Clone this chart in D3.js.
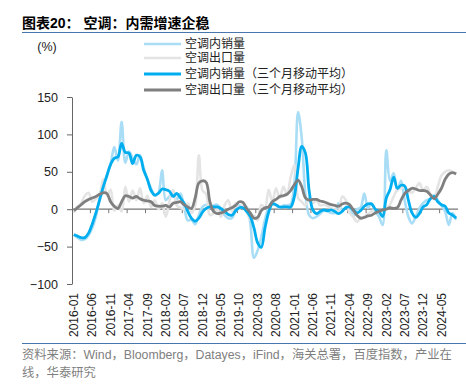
<!DOCTYPE html>
<html>
<head>
<meta charset="utf-8">
<script src="https://cdn.jsdelivr.net/npm/d3@7"></script>
<style>
  body { margin: 0; background: #fff; }
  svg { display: block; font-family: "Liberation Sans", Arial, "Noto Sans CJK SC", sans-serif; }
</style>
</head>
<body>
<svg id="chart" width="466" height="384"></svg>
<script>
// monthly categories 2016-01 .. 2024-09
var months = [];
for (var yr = 2016; yr <= 2024; yr++) {
    for (var mo = 1; mo <= 12; mo++) {
        if (yr === 2024 && mo > 9) break;
        months.push(yr + "-" + (mo < 10 ? "0" + mo : mo));
    }
}

var xTickLabels = ["2016-01", "2016-06", "2016-11", "2017-04", "2017-09", "2018-02", "2018-07",
    "2018-12", "2019-05", "2019-10", "2020-03", "2020-08", "2021-01", "2021-06", "2021-11",
    "2022-04", "2022-09", "2023-02", "2023-07", "2023-12", "2024-05"];
var yTicks = [-100, -50, 0, 50, 100, 150];

var seriesNames = ["空调内销量", "空调出口量", "空调内销量（三个月移动平均）", "空调出口量（三个月移动平均）"];

// 空调内销量 (yoy %)
var domestic = [-34, -38, -41, -40, -35, -25, -10, 15, 30, 45, 60, 83, 65, 117, 62, 77, 68, 60, 72, 55,
    40, 28, 18, 22, 52, 12, 17, 20, 13, 21, 3, -15, -14, -20, -8, 3, 6, 4, 5, 6,
    0, -8, -12, -12, -3, 5, 3, 3, -18, -65, -55, -37, -14, 3, 10, 5, 2, 5, 5, 7,
    35, 130, 95, 20, -8, -12, -10, -6, -2, -3, -5, -5, 8, -2, 3, 6, -10, 0, 2, 21,
    2, 8, -3, -10, -21, 79, 38, 48, 25, 38, 12, -10, -19, -10, 1, 8, 12, 14, 19, 12,
    5, -3, -21, -5, -14];

// 空调出口量
var exportVol = [-5, 3, 8, 18, 22, 10, 14, 20, 40, 18, 26, -2, 5, -3, 30, 10, 25, 12, 28, 8,
    18, 3, 12, 0, 8, -10, 10, 26, 5, 2, 0, 8, -5, 5, 72, 25, 20, -8, -5, 0,
    -10, 5, 12, -3, 8, 0, 5, -2, -14, -8, -15, 6, 2, 26, 10, 28, 15, 30, 20, 43,
    59, 15, 10, 5, 15, 8, 12, 5, 6, 4, 1, 0, -3, 17, 12, -5, -10, -17, -12, -10,
    -6, -3, 0, -5, -2, 1, 6, 17, 26, 28, 30, 25, 22, 28, 35, 25, 30, 20, 14, 30,
    45, 50, 52, 50, 48];

// 空调内销量（三个月移动平均）
var domesticMA = [-34, -36, -38, -38, -32, -20, -5, 12, 30, 45, 60, 68, 70, 88, 76, 75, 61, 72, 70, 52,
    40, 25, 19, 21, 27, 26, 24, 17, 21, 15, 8, -3, -12, -16, -12, -4, 1, 3, 3, 3,
    1, -3, -7, -8, -2, 2, 2, -3, -10, -25, -45, -51, -25, -4, 7, 6, 3, 3, 3, 3,
    17, 55, 84, 75, 25, -1, -6, -3, -1, -2, -1, -3, -6, -3, 2, 3, -1, -5, -2, 4,
    7, 7, 0, -3, -10, 15, 26, 43, 28, 32, 31, 12, -5, -11, -6, 3, 6, 14, 17, 10,
    6, 4, -5, -8, -12];

// 空调出口量（三个月移动平均）
var exportMA = [-2, 2, 6, 10, 13, 15, 17, 20, 22, 21, 10, 4, 1, 10, 18, 17, 15, 17, 14, 12,
    11, 10, 5, 4, 4, 5, 3, 8, 9, 10, 6, 3, 1, 15, 35, 38, 36, 10, -3, -6,
    -5, -3, 0, 2, 5, 10, 9, 1, -5, -12, -11, -2, 2, 3, 10, 13, 17, 18, 20, 25,
    33, 39, 30, 15, 12, 13, 13, 11, 10, 8, 6, 5, 4, 7, 8, 6, -1, -8, -12, -11,
    -9, -8, -5, -3, -1, 0, 2, 1, 2, 12, 21, 25, 28, 27, 25, 25, 24, 19, 14, 20,
    28, 40, 47, 49, 47];

var svg = d3.select("#chart");

var x = d3.scaleBand()
    .domain(months)
    .range([72, 458])
    .paddingInner(0)
    .paddingOuter(0);

var y = d3.scaleLinear()
    .domain([-100, 150])
    .range([284, 97]);

// title
svg.append("text")
    .attr("x", 22)
    .attr("y", 28)
    .attr("font-size", 14)
    .attr("font-weight", "bold")
    .attr("fill", "#000")
    .text("图表20： 空调：内需增速企稳");

svg.append("line")
    .attr("x1", 22).attr("x2", 466)
    .attr("y1", 32.5).attr("y2", 32.5)
    .attr("stroke", "#4a76b0")
    .attr("stroke-width", 1);

svg.append("text")
    .attr("x", 47)
    .attr("y", 51)
    .attr("text-anchor", "middle")
    .attr("font-size", 12.5)
    .attr("fill", "#222")
    .text("(%)");

// y axis
var yAxis = svg.append("g")
    .attr("transform", "translate(72,0)")
    .call(d3.axisLeft(y).tickValues(yTicks).tickSize(5).tickSizeOuter(0).tickPadding(9));
yAxis.select(".domain").attr("stroke", "#666");
yAxis.selectAll(".tick line").attr("stroke", "#666");
yAxis.selectAll(".tick text")
    .attr("font-size", 12.5)
    .attr("font-family", "Liberation Sans, Arial, sans-serif")
    .attr("fill", "#222");

// zero line with category ticks
svg.append("line")
    .attr("x1", x.range()[0]).attr("x2", x.range()[1])
    .attr("y1", y(0)).attr("y2", y(0))
    .attr("stroke", "#777")
    .attr("stroke-width", 1.3);

svg.append("g")
    .selectAll("line")
    .data(months.filter(function(d, i) { return i > 0 && i % 5 === 0; }))
    .enter().append("line")
    .attr("x1", function(d) { return x(d); })
    .attr("x2", function(d) { return x(d); })
    .attr("y1", y(0))
    .attr("y2", y(0) + 4)
    .attr("stroke", "#777");

// x labels
var xAxis = svg.append("g")
    .attr("transform", "translate(0,293)")
    .call(d3.axisBottom(x).tickValues(xTickLabels).tickSize(0).tickPadding(0));
xAxis.select(".domain").remove();
xAxis.selectAll(".tick text")
    .attr("transform", "rotate(-90)")
    .attr("text-anchor", "end")
    .attr("x", 0)
    .attr("y", 0)
    .attr("dy", "0.35em")
    .attr("font-size", 12)
    .attr("font-family", "Liberation Sans, Arial, sans-serif")
    .attr("fill", "#222");

// series lines
var line = d3.line()
    .x(function(d, i) { return x(months[i]) + x.bandwidth() / 2; })
    .y(function(d) { return y(d); })
    .curve(d3.curveCatmullRom.alpha(0.5));

var series = [
    { name: seriesNames[0], values: domestic, color: "#a8ddf5", width: 2.6 },
    { name: seriesNames[1], values: exportVol, color: "#e4e4e4", width: 2.6 },
    { name: seriesNames[2], values: domesticMA, color: "#00aeef", width: 2.8 },
    { name: seriesNames[3], values: exportMA, color: "#7f7f7f", width: 2.8 }
];

svg.append("g")
    .selectAll("path")
    .data(series)
    .enter().append("path")
    .attr("d", function(d) { return line(d.values); })
    .attr("fill", "none")
    .attr("stroke", function(d) { return d.color; })
    .attr("stroke-width", function(d) { return d.width; })
    .attr("stroke-linejoin", "round");

// legend
var legendY = [44, 58, 74, 90];
var legend = svg.append("g")
    .selectAll("g")
    .data(series)
    .enter().append("g")
    .attr("transform", function(d, i) { return "translate(0," + legendY[i] + ")"; });

legend.append("line")
    .attr("x1", 144).attr("x2", 181)
    .attr("y1", 0).attr("y2", 0)
    .attr("stroke", function(d) { return d.color; })
    .attr("stroke-width", function(d) { return d.width; });

legend.append("text")
    .attr("x", 185)
    .attr("y", 0)
    .attr("dy", "0.35em")
    .attr("font-size", 12)
    .attr("fill", "#222")
    .text(function(d) { return d.name; });

// source
svg.append("line")
    .attr("x1", 22).attr("x2", 466)
    .attr("y1", 343.5).attr("y2", 343.5)
    .attr("stroke", "#4a76b0")
    .attr("stroke-width", 1);

var sourceLines = ["资料来源：Wind，Bloomberg，Datayes，iFind，海关总署，百度指数，产业在", "线，华泰研究"];
svg.append("g")
    .selectAll("text")
    .data(sourceLines)
    .enter().append("text")
    .attr("x", 22)
    .attr("y", function(d, i) { return 359 + i * 17.5; })
    .attr("font-size", 12.3)
    .attr("fill", "#7f7f7f")
    .text(function(d) { return d; });
</script>
</body>
</html>
